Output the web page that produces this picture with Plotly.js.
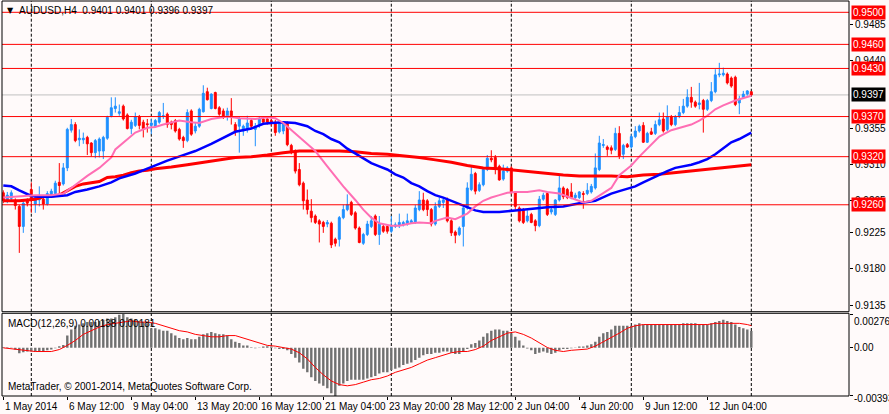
<!DOCTYPE html>
<html>
<head>
<meta charset="utf-8">
<script src="https://cdn.plot.ly/plotly-3.0.1.min.js"></script>
<style>
  html, body { margin: 0; padding: 0; background: #FFFAFA; }
  #chart { width: 889px; height: 414px; }
</style>
</head>
<body>
<div id="chart"></div>
<script>
// AUDUSD H4 candles, 1 May - 12 Jun 2014
var opens = [
  0.9275,0.9265,0.9268,0.9265,0.9258,0.9233,0.9265,0.9279,0.9261,0.9266,
  0.9267,0.9261,0.9271,0.9274,0.9288,0.9286,0.9306,0.9353,0.9360,0.9341,
  0.9341,0.9344,0.9337,0.9325,0.9327,0.9327,0.9343,0.9371,0.9380,0.9374,
  0.9383,0.9372,0.9355,0.9359,0.9370,0.9363,0.9361,0.9359,0.9358,0.9363,
  0.9370,0.9373,0.9363,0.9365,0.9354,0.9344,0.9340,0.9377,0.9352,0.9358,
  0.9376,0.9401,0.9380,0.9400,0.9381,0.9377,0.9371,0.9377,0.9360,0.9358,
  0.9352,0.9355,0.9365,0.9354,0.9359,0.9367,0.9367,0.9365,0.9363,0.9351,
  0.9352,0.9362,0.9334,0.9327,0.9304,0.9287,0.9266,0.9252,0.9246,0.9240,
  0.9238,0.9236,0.9237,0.9217,0.9217,0.9244,0.9254,0.9263,0.9250,0.9231,
  0.9212,0.9223,0.9233,0.9246,0.9223,0.9233,0.9233,0.9227,0.9233,0.9234,
  0.9235,0.9236,0.9238,0.9238,0.9254,0.9266,0.9265,0.9254,0.9236,0.9258,
  0.9263,0.9266,0.9240,0.9226,0.9223,0.9233,0.9256,0.9279,0.9299,0.9278,
  0.9285,0.9304,0.9318,0.9319,0.9308,0.9292,0.9302,0.9306,0.9275,0.9256,
  0.9254,0.9240,0.9248,0.9240,0.9234,0.9267,0.9274,0.9251,0.9248,0.9266,
  0.9281,0.9279,0.9276,0.9269,0.9269,0.9274,0.9274,0.9276,0.9281,0.9304,
  0.9334,0.9332,0.9331,0.9329,0.9349,0.9323,0.9335,0.9332,0.9345,0.9352,
  0.9359,0.9338,0.9351,0.9349,0.9360,0.9367,0.9354,0.9370,0.9360,0.9370,
  0.9375,0.9383,0.9394,0.9388,0.9385,0.9390,0.9379,0.9390,0.9401,0.9422,
  0.9422,0.9423,0.9418,0.9419,0.9387,0.9394,0.9398,0.9401
];
var highs = [
  0.9278,0.9276,0.9278,0.9268,0.9260,0.9265,0.9268,0.9288,0.9272,0.9283,
  0.9270,0.9277,0.9280,0.9290,0.9312,0.9312,0.9356,0.9367,0.9363,0.9354,
  0.9350,0.9346,0.9338,0.9342,0.9344,0.9346,0.9371,0.9394,0.9394,0.9385,
  0.9385,0.9374,0.9366,0.9375,0.9372,0.9366,0.9367,0.9367,0.9367,0.9377,
  0.9387,0.9375,0.9365,0.9367,0.9356,0.9346,0.9379,0.9379,0.9362,0.9381,
  0.9409,0.9406,0.9399,0.9401,0.9383,0.9380,0.9381,0.9393,0.9363,0.9370,
  0.9360,0.9371,0.9368,0.9362,0.9370,0.9370,0.9369,0.9367,0.9366,0.9364,
  0.9364,0.9364,0.9336,0.9329,0.9312,0.9289,0.9279,0.9267,0.9248,0.9242,
  0.9240,0.9241,0.9239,0.9219,0.9246,0.9260,0.9273,0.9265,0.9252,0.9233,
  0.9225,0.9240,0.9246,0.9248,0.9246,0.9236,0.9235,0.9246,0.9238,0.9249,
  0.9240,0.9249,0.9242,0.9260,0.9277,0.9275,0.9267,0.9256,0.9263,0.9269,
  0.9268,0.9269,0.9242,0.9228,0.9233,0.9258,0.9288,0.9308,0.9301,0.9288,
  0.9306,0.9322,0.9328,0.9322,0.9310,0.9310,0.9308,0.9308,0.9277,0.9258,
  0.9256,0.9253,0.9250,0.9242,0.9271,0.9275,0.9276,0.9257,0.9267,0.9297,
  0.9283,0.9281,0.9287,0.9275,0.9277,0.9277,0.9287,0.9286,0.9324,0.9346,
  0.9342,0.9334,0.9334,0.9356,0.9358,0.9336,0.9337,0.9348,0.9358,0.9360,
  0.9363,0.9351,0.9356,0.9365,0.9375,0.9375,0.9384,0.9372,0.9372,0.9383,
  0.9392,0.9404,0.9407,0.9390,0.9412,0.9392,0.9392,0.9413,0.9429,0.9437,
  0.9431,0.9425,0.9420,0.9421,0.9396,0.9402,0.9403,0.9401
];
var lows = [
  0.9262,0.9262,0.9265,0.9254,0.9200,0.9225,0.9258,0.9250,0.9250,0.9258,
  0.9254,0.9259,0.9269,0.9272,0.9270,0.9284,0.9302,0.9350,0.9338,0.9333,
  0.9336,0.9322,0.9320,0.9318,0.9319,0.9317,0.9341,0.9369,0.9375,0.9371,
  0.9365,0.9354,0.9348,0.9357,0.9354,0.9344,0.9350,0.9348,0.9356,0.9361,
  0.9367,0.9356,0.9354,0.9350,0.9340,0.9331,0.9338,0.9346,0.9349,0.9356,
  0.9375,0.9390,0.9379,0.9379,0.9371,0.9367,0.9365,0.9360,0.9346,0.9325,
  0.9346,0.9350,0.9355,0.9333,0.9356,0.9360,0.9360,0.9358,0.9346,0.9349,
  0.9348,0.9333,0.9323,0.9299,0.9283,0.9254,0.9248,0.9238,0.9236,0.9213,
  0.9225,0.9232,0.9206,0.9208,0.9208,0.9242,0.9252,0.9246,0.9229,0.9212,
  0.9210,0.9221,0.9231,0.9221,0.9210,0.9225,0.9224,0.9225,0.9231,0.9231,
  0.9233,0.9234,0.9236,0.9236,0.9252,0.9252,0.9246,0.9233,0.9234,0.9256,
  0.9256,0.9238,0.9221,0.9212,0.9221,0.9208,0.9254,0.9277,0.9273,0.9276,
  0.9283,0.9302,0.9313,0.9298,0.9290,0.9290,0.9300,0.9273,0.9254,0.9238,
  0.9236,0.9238,0.9237,0.9227,0.9232,0.9265,0.9246,0.9248,0.9246,0.9264,
  0.9267,0.9267,0.9267,0.9267,0.9267,0.9255,0.9272,0.9274,0.9279,0.9302,
  0.9331,0.9321,0.9323,0.9327,0.9317,0.9317,0.9331,0.9330,0.9343,0.9350,
  0.9337,0.9337,0.9347,0.9347,0.9358,0.9350,0.9352,0.9358,0.9358,0.9368,
  0.9373,0.9381,0.9381,0.9381,0.9379,0.9350,0.9377,0.9388,0.9399,0.9419,
  0.9420,0.9410,0.9406,0.9383,0.9373,0.9392,0.9396,0.9396
];
var closes = [
  0.9265,0.9272,0.9275,0.9259,0.9233,0.9262,0.9262,0.9266,0.9269,0.9267,
  0.9261,0.9274,0.9277,0.9287,0.9284,0.9306,0.9354,0.9360,0.9340,0.9343,
  0.9343,0.9336,0.9325,0.9340,0.9342,0.9344,0.9369,0.9381,0.9383,0.9376,
  0.9367,0.9355,0.9363,0.9370,0.9359,0.9355,0.9360,0.9362,0.9365,0.9375,
  0.9371,0.9360,0.9360,0.9352,0.9342,0.9340,0.9375,0.9348,0.9358,0.9379,
  0.9399,0.9391,0.9398,0.9380,0.9373,0.9369,0.9377,0.9371,0.9352,0.9367,
  0.9358,0.9362,0.9358,0.9358,0.9367,0.9363,0.9363,0.9363,0.9350,0.9362,
  0.9362,0.9335,0.9325,0.9302,0.9285,0.9265,0.9254,0.9244,0.9238,0.9236,
  0.9233,0.9238,0.9210,0.9212,0.9244,0.9254,0.9260,0.9248,0.9231,0.9213,
  0.9223,0.9236,0.9240,0.9223,0.9236,0.9227,0.9227,0.9233,0.9235,0.9238,
  0.9238,0.9240,0.9240,0.9256,0.9266,0.9254,0.9254,0.9236,0.9258,0.9265,
  0.9266,0.9240,0.9225,0.9222,0.9231,0.9256,0.9281,0.9298,0.9277,0.9285,
  0.9304,0.9318,0.9316,0.9304,0.9291,0.9302,0.9306,0.9275,0.9258,0.9240,
  0.9238,0.9246,0.9238,0.9234,0.9267,0.9272,0.9248,0.9254,0.9266,0.9281,
  0.9270,0.9269,0.9269,0.9272,0.9276,0.9273,0.9278,0.9283,0.9306,0.9337,
  0.9335,0.9329,0.9328,0.9349,0.9321,0.9334,0.9332,0.9345,0.9352,0.9358,
  0.9338,0.9349,0.9348,0.9360,0.9366,0.9352,0.9370,0.9360,0.9370,0.9375,
  0.9383,0.9394,0.9388,0.9383,0.9387,0.9379,0.9390,0.9401,0.9422,0.9423,
  0.9424,0.9412,0.9408,0.9385,0.9392,0.9398,0.9402,0.9397
];

// moving averages, sampled along the bars
var pinkBar = [0,8,12,15,17,21,24,27,28,31,33,36,38,40,44,47,49,52,56,59,63,66,68,70,72,74,76,78,81,83,85,88,90,92,94,97,99,102,104,107,108,111,113,116,118,120,122,124,126,128,131,134,136,139,141,144,145,147,150,152,154,157,159,162,164,167,169,172,174,176,178,180,183,185,187];
var pinkVal = [0.9269,0.9272,0.9272,0.9274,0.9281,0.9296,0.9306,0.9319,0.9329,0.9342,0.9350,0.9356,0.9357,0.9360,0.9365,0.9363,0.9362,0.9367,0.9370,0.9368,0.9367,0.9369,0.9368,0.9362,0.9353,0.9344,0.9335,0.9327,0.9308,0.9295,0.9283,0.9266,0.9254,0.9244,0.9237,0.9234,0.9234,0.9237,0.9238,0.9237,0.9240,0.9244,0.9242,0.9249,0.9258,0.9265,0.9269,0.9272,0.9275,0.9276,0.9276,0.9278,0.9276,0.9274,0.9270,0.9265,0.9263,0.9265,0.9274,0.9281,0.9297,0.9309,0.9320,0.9335,0.9345,0.9353,0.9356,0.9360,0.9365,0.9371,0.9379,0.9384,0.9390,0.9393,0.9396];

var blueBar = [0,2,4,7,9,12,14,16,18,21,24,27,29,33,36,38,41,45,48,52,55,58,62,65,67,70,73,76,78,80,82,84,86,88,90,92,94,96,98,100,102,104,106,108,110,112,114,116,118,120,124,128,132,136,140,144,148,150,152,154,156,158,160,162,164,166,168,170,172,174,176,178,180,182,184,186,187];
var blueVal = [0.9284,0.9283,0.9278,0.9271,0.9270,0.9270,0.9271,0.9272,0.9276,0.9279,0.9283,0.9288,0.9293,0.9299,0.9305,0.9309,0.9315,0.9322,0.9327,0.9336,0.9344,0.9351,0.9355,0.9361,0.9362,0.9363,0.9362,0.9358,0.9352,0.9348,0.9342,0.9338,0.9330,0.9324,0.9319,0.9312,0.9308,0.9304,0.9298,0.9294,0.9287,0.9283,0.9277,0.9272,0.9269,0.9265,0.9260,0.9256,0.9253,0.9251,0.9251,0.9253,0.9255,0.9257,0.9258,0.9262,0.9265,0.9269,0.9274,0.9277,0.9280,0.9283,0.9288,0.9293,0.9298,0.9302,0.9306,0.9308,0.9310,0.9313,0.9317,0.9323,0.9331,0.9338,0.9342,0.9348,0.9350];

var redBar = [0,4,8,10,14,16,18,20,24,26,28,30,32,34,36,38,42,46,50,54,58,62,66,70,74,80,84,88,92,96,100,104,108,112,116,120,124,128,132,136,140,144,148,152,156,160,164,168,172,176,180,184,187];
var redVal = [0.9265,0.9265,0.9267,0.9270,0.9272,0.9277,0.9283,0.9286,0.9289,0.9294,0.9295,0.9297,0.9300,0.9302,0.9303,0.9305,0.9307,0.9310,0.9313,0.9316,0.9319,0.9320,0.9322,0.9325,0.9327,0.9327,0.9327,0.9326,0.9324,0.9323,0.9321,0.9319,0.9316,0.9313,0.9309,0.9306,0.9305,0.9303,0.9301,0.9299,0.9297,0.9296,0.9296,0.9296,0.9295,0.9297,0.9298,0.9300,0.9302,0.9304,0.9306,0.9308,0.9310];

// MACD(12,26,9)
var macdHist = [
  0.00005,0.00005,0.00003,-0.00014,-0.00044,-0.00035,-0.0003,-0.0003,-0.0003,-0.0003,
  -0.0003,-0.0002,-0.00014,-0.00003,0.00014,0.00024,0.0010,0.0015,0.0018,0.0019,
  0.0020,0.0021,0.0021,0.0021,0.0022,0.0023,0.0024,0.0024,0.0025,0.0027,
  0.00276,0.0025,0.0024,0.0023,0.0022,0.0021,0.0020,0.0016,0.0016,0.0015,
  0.0014,0.0014,0.0012,0.0010,0.0008,0.0007,0.0008,0.0007,0.0007,0.0009,
  0.0011,0.0012,0.0013,0.0012,0.0011,0.0011,0.0010,0.0007,0.0005,0.0004,
  0.0002,0.0002,0.00005,-0.00003,0.00003,0.0001,0.00014,0.0001,-0.00003,-0.0001,
  -0.0001,-0.0002,-0.0005,-0.0008,-0.0012,-0.0017,-0.0020,-0.0024,-0.0027,-0.0029,
  -0.0031,-0.0033,-0.0037,-0.00393,-0.0031,-0.0029,-0.0027,-0.0026,-0.0026,-0.0026,
  -0.0026,-0.0025,-0.0024,-0.0023,-0.0021,-0.0020,-0.0020,-0.0018,-0.0017,-0.0016,
  -0.0014,-0.0013,-0.0012,-0.0010,-0.0008,-0.0006,-0.0005,-0.0005,-0.0004,-0.0004,
  -0.0003,-0.0003,-0.0004,-0.0005,-0.0005,-0.0003,-0.0001,0.0003,0.0004,0.0006,
  0.0009,0.0012,0.0014,0.0015,0.0015,0.0014,0.0014,0.0012,0.0009,0.0006,
  0.0002,-0.00005,-0.0002,-0.0005,-0.0004,-0.0003,-0.0004,-0.0005,-0.0004,-0.0002,
  -0.0001,-0.0001,-0.00003,0.00003,0.0001,0.0001,0.0002,0.0003,0.0005,0.0009,
  0.0012,0.0013,0.0015,0.0018,0.0018,0.0018,0.0018,0.0018,0.0019,0.0020,
  0.0019,0.0019,0.0019,0.0019,0.0019,0.0019,0.0019,0.0019,0.0019,0.0019,
  0.0020,0.0020,0.0020,0.0020,0.0019,0.0019,0.0019,0.0020,0.0021,0.0022,
  0.0023,0.0022,0.0021,0.0019,0.0017,0.0016,0.0015,0.00138
];
var sigBar = [0,4,8,12,14,16,18,20,22,24,26,28,30,32,34,36,38,40,42,44,46,48,50,52,54,56,58,60,62,64,66,68,70,72,74,76,78,80,82,84,86,88,90,92,94,96,98,100,102,104,106,108,110,112,114,116,118,120,122,124,126,128,130,132,134,136,138,140,142,144,146,148,150,152,154,156,158,160,162,164,166,168,170,172,174,176,178,180,182,184,186,187];
var sigVal = [0,-0.00014,-0.0003,-0.0003,-0.00014,0.0002,0.0006,0.0011,0.0014,0.0017,0.0019,0.0020,0.0021,0.0022,0.0021,0.0021,0.0020,0.0018,0.0016,0.0014,0.0013,0.0011,0.0010,0.0009,0.0009,0.0010,0.0010,0.0008,0.0006,0.0004,0.0002,0.00014,0.00003,-0.0001,-0.0004,-0.0009,-0.0016,-0.0022,-0.0027,-0.0030,-0.0031,-0.0030,-0.0028,-0.0026,-0.0025,-0.0023,-0.0020,-0.0018,-0.0016,-0.0013,-0.0010,-0.0008,-0.0006,-0.0004,-0.0003,-0.0003,-0.00014,0.00014,0.0006,0.0009,0.0012,0.0013,0.0011,0.0008,0.0004,0.00003,-0.0002,-0.0003,-0.0002,-0.00014,-0.0001,0.00014,0.0005,0.0008,0.0012,0.0016,0.0018,0.0019,0.0019,0.0019,0.0019,0.0019,0.0019,0.0019,0.0019,0.0019,0.0020,0.0020,0.0020,0.0020,0.0019,0.00181];

// axis labels and price levels
var tickBars = [0,16,32,48,64,80,96,112,128,144,160,176];
var tickText = ['1 May 2014','6 May 12:00','9 May 04:00','13 May 20:00','16 May 12:00','21 May 04:00','23 May 20:00','28 May 12:00','2 Jun 04:00','4 Jun 20:00','9 Jun 12:00','12 Jun 04:00'];
var gridBars = [7,37,67,97,127,157,187];
var priceTicks = [0.9485,0.9440,0.9355,0.9310,0.9265,0.9225,0.9180,0.9135];
var levels = [0.9500,0.9460,0.9430,0.9370,0.9320,0.9260];
var bid = 0.9397;
var macdTicks = [0.00276, 0, -0.00393];
var macdText = ['0.00276', '0.00', '-0.00393'];

var bars = opens.map(function (v, i) { return i; });
var fontFam = 'Liberation Sans, Arial, sans-serif';

var data = [
  {type: 'candlestick', x: bars, open: opens, high: highs, low: lows, close: closes,
   xaxis: 'x', yaxis: 'y', whiskerwidth: 0, hoverinfo: 'skip',
   increasing: {line: {color: '#1E90FF', width: 1}, fillcolor: '#1E90FF'},
   decreasing: {line: {color: '#FF0000', width: 1}, fillcolor: '#FF0000'}},
  {type: 'scatter', mode: 'lines', x: redBar, y: redVal, xaxis: 'x', yaxis: 'y',
   line: {color: '#FF0000', width: 3}},
  {type: 'scatter', mode: 'lines', x: blueBar, y: blueVal, xaxis: 'x', yaxis: 'y',
   line: {color: '#0000FF', width: 2.5}},
  {type: 'scatter', mode: 'lines', x: pinkBar, y: pinkVal, xaxis: 'x', yaxis: 'y',
   line: {color: '#FF6EB4', width: 2}},
  {type: 'bar', x: bars, y: macdHist, xaxis: 'x', yaxis: 'y2', width: 0.6,
   marker: {color: '#707070', line: {width: 0}}},
  {type: 'scatter', mode: 'lines', x: sigBar, y: sigVal, xaxis: 'x', yaxis: 'y2',
   line: {color: '#FF0000', width: 1}}
];

var shapes = [];
gridBars.forEach(function (b) {
  ['y domain', 'y2 domain'].forEach(function (ref) {
    shapes.push({type: 'line', xref: 'x', x0: b, x1: b, yref: ref, y0: 0, y1: 1,
      layer: 'below', line: {color: '#000', width: 1, dash: '3px,2px'}});
  });
});
shapes.push({type: 'line', xref: 'paper', x0: 0, x1: 1, yref: 'y', y0: bid, y1: bid,
  layer: 'below', line: {color: '#C0C0C0', width: 1}});
levels.forEach(function (p) {
  shapes.push({type: 'line', xref: 'paper', x0: 0, x1: 1, yref: 'y', y0: p, y1: p,
    line: {color: '#FF0000', width: 1}});
});
['y domain', 'y2 domain'].forEach(function (ref) {
  shapes.push({type: 'rect', xref: 'paper', x0: 0, x1: 1, yref: ref, y0: 0, y1: 1,
    line: {color: '#000', width: 1}, fillcolor: 'rgba(0,0,0,0)'});
});

var annotations = [];
levels.forEach(function (p) {
  annotations.push({xref: 'paper', x: 1, xanchor: 'left', xshift: 2, yref: 'y', y: p,
    text: p.toFixed(4), showarrow: false, bgcolor: '#FF0000', borderpad: 1,
    font: {family: fontFam, size: 10, color: '#FFFFFF'}});
});
annotations.push({xref: 'paper', x: 1, xanchor: 'left', xshift: 2, yref: 'y', y: bid,
  text: bid.toFixed(4), showarrow: false, bgcolor: '#000000', borderpad: 1,
  font: {family: fontFam, size: 10, color: '#FFFFFF'}});
macdTicks.forEach(function (v, i) {
  annotations.push({xref: 'paper', x: 1, xanchor: 'left', xshift: 3, yref: 'y2', y: v,
    yanchor: i === 0 ? 'top' : 'middle', yshift: i === 2 ? -3 : 0,
    text: macdText[i], showarrow: false, font: {family: fontFam, size: 10, color: '#000'}});
});
// time labels start at their tick, like the terminal does
tickBars.forEach(function (b, i) {
  annotations.push({xref: 'x', x: b, xanchor: 'left', xshift: 0, yref: 'y2 domain', y: 0,
    yanchor: 'top', yshift: -3, text: tickText[i], showarrow: false,
    font: {family: fontFam, size: 10, color: '#000'}});
});
annotations.push({xref: 'paper', x: 0, xanchor: 'left', xshift: 3, yref: 'paper', y: 1,
  yanchor: 'top', yshift: -3, text: '\u25BC', showarrow: false,
  font: {family: 'DejaVu Sans, sans-serif', size: 8, color: '#000'}});
annotations.push({xref: 'paper', x: 0, xanchor: 'left', xshift: 15, yref: 'paper', y: 1,
  yanchor: 'top', yshift: -2, text: 'AUDUSD,H4  0.9401 0.9401 0.9396 0.9397', showarrow: false,
  font: {family: fontFam, size: 10, color: '#000'}});
annotations.push({xref: 'paper', x: 0, xanchor: 'left', xshift: 4, yref: 'y2 domain', y: 1,
  yanchor: 'top', yshift: -3, text: 'MACD(12,26,9) 0.00138 0.00181', showarrow: false,
  font: {family: fontFam, size: 10, color: '#000'}});
annotations.push({xref: 'paper', x: 0, xanchor: 'left', xshift: 4, yref: 'y2 domain', y: 0,
  yanchor: 'bottom', yshift: 2, text: 'MetaTrader, \u00A9 2001-2014, MetaQuotes Software Corp.',
  showarrow: false, font: {family: fontFam, size: 10, color: '#000'}});

var layout = {
  width: 889, height: 414,
  margin: {l: 2, r: 40, t: 1, b: 18, pad: 0},
  paper_bgcolor: '#FFFAFA', plot_bgcolor: '#FFFAFA',
  showlegend: false, hovermode: false,
  font: {family: fontFam, size: 10, color: '#000'},
  xaxis: {
    anchor: 'y2', range: [-0.325, 211.425], rangeslider: {visible: false},
    tickmode: 'array', tickvals: tickBars, showticklabels: false,
    ticks: 'outside', ticklen: 3, tickcolor: '#000',
    showgrid: false, zeroline: false, showline: false, fixedrange: true
  },
  yaxis: {
    domain: [0.2134, 1], range: [0.912668, 0.951409], side: 'right',
    tickmode: 'array', tickvals: priceTicks, ticktext: priceTicks.map(function (v) { return v.toFixed(4); }),
    ticks: 'outside', ticklen: 3, tickcolor: '#000',
    showgrid: false, zeroline: false, showline: false
  },
  yaxis2: {
    domain: [0, 0.2094], range: [-0.00393, 0.00282], side: 'right',
    tickmode: 'array', tickvals: macdTicks, showticklabels: false,
    ticks: 'outside', ticklen: 3, tickcolor: '#000',
    showgrid: false, zeroline: false, showline: false
  },
  shapes: shapes,
  annotations: annotations
};

Plotly.newPlot('chart', data, layout, {staticPlot: true});
</script>
</body>
</html>
